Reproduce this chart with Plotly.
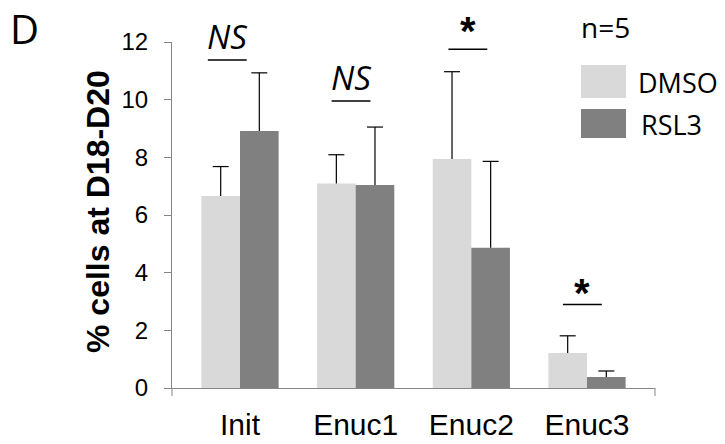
import plotly.graph_objects as go

categories = ["Init", "Enuc1", "Enuc2", "Enuc3"]
dmso = [6.66, 7.09, 7.94, 1.21]
dmso_err = [1.02, 1.00, 3.03, 0.60]
rsl3 = [8.91, 7.04, 4.86, 0.38]
rsl3_err = [2.02, 2.01, 3.00, 0.21]
series_names = ["DMSO", "RSL3"]
sig_labels = ["NS", "NS", "*", "*"]
sig_levels = [11.38, 9.95, 11.75, 2.90]

DMSO_C = "#d9d9d9"
RSL3_C = "#808080"
AX_C = "#868686"

bw = 0.334
cap = 0.069
xi = list(range(len(categories)))

fig = go.Figure()
fig.add_trace(go.Bar(x=[i - bw / 2 for i in xi], y=dmso, width=bw, name=series_names[0],
                     marker=dict(color=DMSO_C, line=dict(width=0))))
fig.add_trace(go.Bar(x=[i + bw / 2 for i in xi], y=rsl3, width=bw, name=series_names[1],
                     marker=dict(color=RSL3_C, line=dict(width=0))))

# error bars (upper only)
ex, ey = [], []
for off, vals, errs in [(-bw / 2, dmso, dmso_err), (bw / 2, rsl3, rsl3_err)]:
    for i, v, e in zip(xi, vals, errs):
        x = i + off
        ex += [x, x, None, x - cap, x + cap, None]
        ey += [v, v + e, None, v + e, v + e, None]
fig.add_trace(go.Scatter(x=ex, y=ey, mode="lines", line=dict(color="black", width=1.2),
                         hoverinfo="skip", showlegend=False))

shapes = []
annotations = []
# significance markers
sig_off = [-0.11, -0.04, -0.03, -0.04]
sig_shift = [-1, -1, -6, -13]
for i, lab, lev, off, sh in zip(xi, sig_labels, sig_levels, sig_off, sig_shift):
    shapes.append(dict(type="line", xref="x", yref="y", x0=i + off - 0.168, x1=i + off + 0.168,
                       y0=lev, y1=lev, line=dict(color="black", width=1.5)))
    if lab == "NS":
        annotations.append(dict(x=i + off, y=lev, xref="x", yref="y", text="<i>NS</i>",
                                showarrow=False, yanchor="bottom", yshift=sh,
                                font=dict(family="Open Sans", size=33, color="black")))
    else:
        annotations.append(dict(x=i + off, y=lev, xref="x", yref="y", text="<b>*</b>",
                                showarrow=False, yanchor="bottom", yshift=sh,
                                font=dict(family="Liberation Sans", size=40, color="black")))

# end ticks on x axis
for xp in [0, 1]:
    shapes.append(dict(type="line", xref="paper", yref="paper", x0=xp, x1=xp, y0=0, y1=-8 / 346,
                       line=dict(color=AX_C, width=1)))

# legend (custom swatches)
def px_x(p):
    return (p - 172) / 483

def px_y(p):
    return (388 - p) / 346

for name, col, top, bot, tx, ty in [(series_names[0], DMSO_C, 65, 98, 636, 82),
                                     (series_names[1], RSL3_C, 109, 138, 639, 124)]:
    shapes.append(dict(type="rect", xref="paper", yref="paper", x0=px_x(581), x1=px_x(626),
                       y0=px_y(bot), y1=px_y(top), fillcolor=col, line=dict(width=0)))
    annotations.append(dict(x=px_x(tx), y=px_y(ty), xref="paper", yref="paper", text=name,
                            showarrow=False, xanchor="left", yanchor="middle",
                            font=dict(family="Open Sans", size=27, color="black")))

annotations.append(dict(x=px_x(579), y=px_y(27), xref="paper", yref="paper", text="n=5",
                        showarrow=False, xanchor="left", yanchor="middle",
                        font=dict(family="Open Sans", size=28, color="black")))
annotations.append(dict(x=px_x(24), y=px_y(28), xref="paper", yref="paper", text="D",
                        showarrow=False, xanchor="center", yanchor="middle",
                        font=dict(family="Open Sans", size=40, color="black")))
annotations.append(dict(x=px_x(98), y=px_y(212), xref="paper", yref="paper",
                        text="<b>% cells at D18-D20</b>", textangle=-90,
                        showarrow=False, xanchor="center", yanchor="middle",
                        font=dict(family="Liberation Sans", size=32, color="black")))

fig.update_layout(
    width=725, height=444,
    margin=dict(l=172, r=70, t=42, b=56, pad=0),
    plot_bgcolor="white", paper_bgcolor="white",
    showlegend=False,
    shapes=shapes, annotations=annotations,
    xaxis=dict(range=[-0.588, 3.588], tickvals=xi, ticktext=categories, showline=True,
               linecolor=AX_C, linewidth=1, ticks="", showgrid=False, zeroline=False,
               automargin=False,
               tickfont=dict(family="Liberation Sans", size=30, color="black"),
               ticklabelstandoff=10),
    yaxis=dict(range=[0, 12], tickvals=[0, 2, 4, 6, 8, 10, 12], showline=True,
               linecolor=AX_C, linewidth=1, ticks="outside", ticklen=7, tickcolor=AX_C,
               showgrid=False, zeroline=False, automargin=False,
               tickfont=dict(family="Liberation Sans", size=24, color="black"),
               ticklabelstandoff=11),
)

fig.write_html("out.html", config={"displayModeBar": False},
               post_script="document.body.style.margin='0';")
